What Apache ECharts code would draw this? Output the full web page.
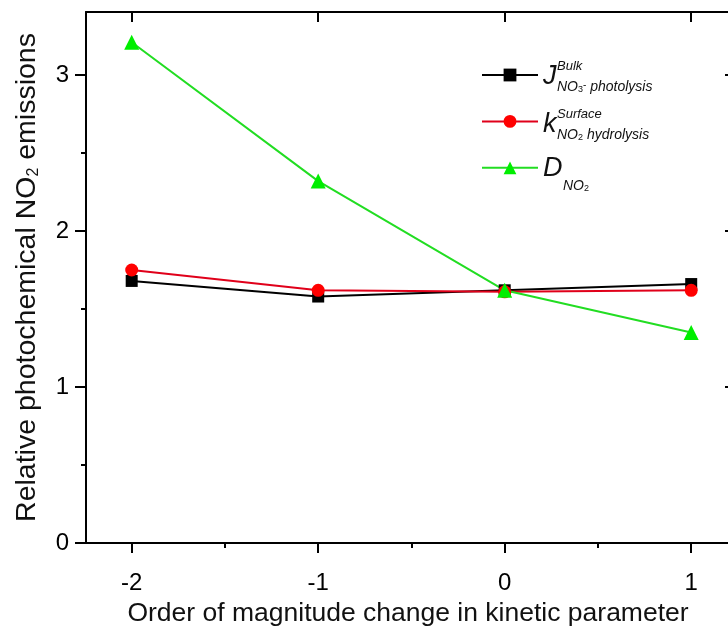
<!DOCTYPE html>
<html>
<head>
<meta charset="utf-8">
<script src="https://cdn.jsdelivr.net/npm/echarts@6/dist/echarts.min.js"></script>
<style>
  html, body { margin: 0; padding: 0; background: #fff; }
  #chart { width: 728px; height: 626px; }
</style>
</head>
<body>
<div id="chart"></div>
<script>
// order of magnitude change (x)
var orders = [-2, -1, 0, 1]
// relative photochemical NO2 emissions per parameter
var jBulk = [1.68, 1.58, 1.62, 1.66]
var kSurface = [1.75, 1.62, 1.61, 1.62]
var dNO2 = [3.21, 2.32, 1.62, 1.35]
// ticks
var xTicks = [-2, -1, 0, 1]
var xMinorTicks = [-1.5, -0.5, 0.5]
var yTicks = [0, 1, 2, 3]
var yMinorTicks = [0.5, 1.5, 2.5]

var names = ['J', 'k', 'D']
// legend label parts: main letter, superscript, subscript (rich)
var legendMain = ['J', 'k', 'D']
var legendSup = ['Bulk', 'Surface', '']
var legendSub = ['NO{s|3}{m|-} photolysis', 'NO{s|2} hydrolysis', 'NO{s|2}']

function pairs(ys) {
  return orders.map(function(x, i) { return [x, ys[i]] })
}

var font = 'Liberation Sans, Arial, sans-serif'
var xMin = -2.245
var xMax = 1.208
var yMin = 0
var yMax = 3.404

// legend rows (icon centres) and label placement
var legendTop = 67
var rowStep = 48
var textX = 543

var graphics = []
legendMain.forEach(function(t, i) {
  var m = legendTop + 8 + i * rowStep
  var isD = t === 'D'
  graphics.push({
    type: 'text', x: textX, y: m + (isD ? -3 : 1),
    style: { text: t, fontSize: 27, fontStyle: 'italic', fontFamily: font, fill: '#111', verticalAlign: 'middle' }
  })
  if (legendSup[i]) {
    graphics.push({
      type: 'text', x: textX + 14, y: m - 9,
      style: { text: legendSup[i], fontSize: 13, fontStyle: 'italic', fontFamily: font, fill: '#111', verticalAlign: 'middle' }
    })
  }
  graphics.push({
    type: 'text', x: textX + (isD ? 20 : 14), y: m + (isD ? 15 : 12),
    style: {
      text: legendSub[i], fontSize: 14, fontStyle: 'italic', fontFamily: font, fill: '#111', verticalAlign: 'middle',
      rich: {
        s: { fontSize: 9, fontFamily: font, fill: '#111', verticalAlign: 'bottom', lineHeight: 10 },
        m: { fontSize: 10, fontFamily: font, fill: '#111', verticalAlign: 'top', lineHeight: 10 }
      }
    }
  })
})

var chart = echarts.init(document.getElementById('chart'))

var option = {
  animation: false,
  backgroundColor: '#fff',
  grid: { left: 86, right: -2, top: 12, bottom: 83, outerBoundsMode: 'none' },
  graphic: graphics,
  legend: {
    orient: 'vertical',
    left: 481,
    top: legendTop,
    padding: 0,
    itemGap: 32,
    itemWidth: 56,
    itemHeight: 16,
    data: names,
    formatter: function() { return '' },
    textStyle: { fontSize: 8 }
  },
  xAxis: [
    {
      type: 'value', position: 'bottom', min: xMin, max: xMax,
      splitLine: { show: false },
      axisLine: { onZero: false, lineStyle: { color: '#000', width: 2 } },
      axisTick: { customValues: xTicks, length: 10, lineStyle: { color: '#000', width: 2 } },
      axisLabel: { customValues: xTicks, fontSize: 24, fontFamily: font, color: '#000', margin: 28 },
      name: 'Order of magnitude change in kinetic parameter',
      nameLocation: 'middle',
      nameGap: 57,
      nameTextStyle: { fontSize: 26.5, fontFamily: font, color: '#111' }
    },
    {
      type: 'value', position: 'top', min: xMin, max: xMax,
      splitLine: { show: false },
      axisLine: { onZero: false, lineStyle: { color: '#000', width: 2 } },
      axisTick: { customValues: xTicks, inside: true, length: 10, lineStyle: { color: '#000', width: 2 } },
      axisLabel: { show: false }
    },
    {
      type: 'value', position: 'bottom', min: xMin, max: xMax,
      splitLine: { show: false },
      axisLine: { show: false, onZero: false },
      axisTick: { customValues: xMinorTicks, length: 5, lineStyle: { color: '#000', width: 2 } },
      axisLabel: { show: false }
    }
  ],
  yAxis: [
    {
      type: 'value', position: 'left', min: yMin, max: yMax,
      splitLine: { show: false },
      axisLine: { onZero: false, lineStyle: { color: '#000', width: 2 } },
      axisTick: { customValues: yTicks, length: 11, lineStyle: { color: '#000', width: 2 } },
      axisLabel: { customValues: yTicks, fontSize: 24, fontFamily: font, color: '#000', margin: 17 },
      name: 'Relative photochemical NO{sub|2} emissions',
      nameLocation: 'middle',
      nameGap: 44,
      nameTextStyle: {
        fontSize: 28.5, fontFamily: font, color: '#111',
        rich: { sub: { fontSize: 16, fontFamily: font, color: '#111', verticalAlign: 'bottom', lineHeight: 14 } }
      }
    },
    {
      type: 'value', position: 'left', min: yMin, max: yMax,
      splitLine: { show: false },
      axisLine: { show: false, onZero: false },
      axisTick: { customValues: yMinorTicks, length: 5, lineStyle: { color: '#000', width: 2 } },
      axisLabel: { show: false }
    },
    {
      type: 'value', position: 'right', min: yMin, max: yMax,
      splitLine: { show: false },
      axisLine: { onZero: false, lineStyle: { color: '#000', width: 2 } },
      axisTick: { customValues: yTicks, inside: true, length: 5, lineStyle: { color: '#000', width: 2 } },
      axisLabel: { show: false }
    }
  ],
  series: [
    {
      name: 'J', type: 'line', data: pairs(jBulk),
      symbol: 'rect', symbolSize: 12,
      itemStyle: { color: '#000' },
      lineStyle: { color: '#000', width: 2 }
    },
    {
      name: 'k', type: 'line', data: pairs(kSurface),
      symbol: 'circle', symbolSize: 13,
      itemStyle: { color: '#ff0000' },
      lineStyle: { color: '#e0001a', width: 2 }
    },
    {
      name: 'D', type: 'line', data: pairs(dNO2),
      symbol: 'triangle', symbolSize: 15,
      itemStyle: { color: '#00ee00' },
      lineStyle: { color: '#22dd22', width: 2 }
    }
  ]
}

chart.setOption(option)
</script>
</body>
</html>
